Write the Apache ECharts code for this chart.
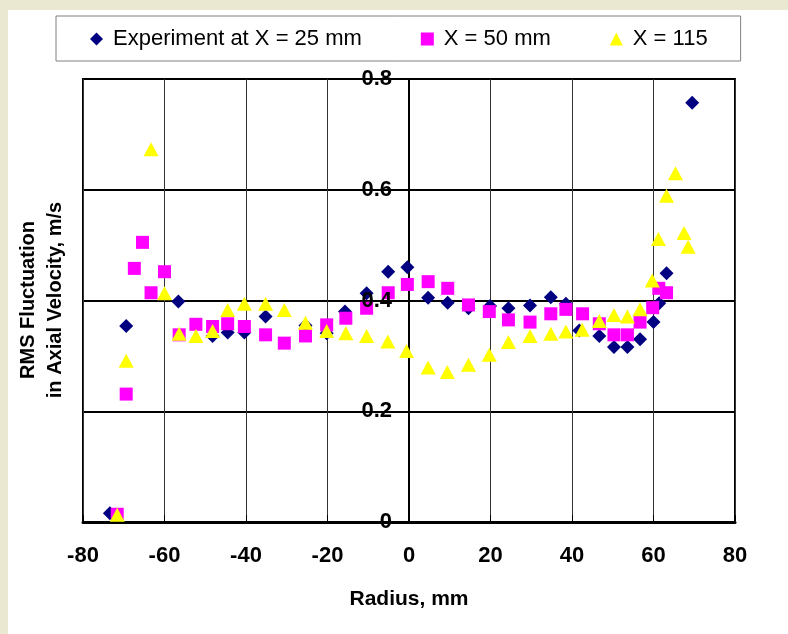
<!DOCTYPE html>
<html><head><meta charset="utf-8">
<script src="https://cdn.jsdelivr.net/npm/echarts@6/dist/echarts.min.js"></script>
<style>
html,body{margin:0;padding:0;background:#EAE8D1;width:788px;height:634px;overflow:hidden;}
#paper{position:absolute;left:8px;top:10px;width:780px;height:624px;background:#fff;}
#chart{position:absolute;left:0;top:0;width:788px;height:634px;}
</style></head><body><div id="paper"></div><div id="chart"></div>
<script>
const seriesNames = ['Experiment at X = 25 mm', 'X = 50 mm', 'X = 115'];

const x25 = [-73.4, -69.4, -56.6, -48.2, -44.5, -40.4, -35.2, -25.4, -20.2, -15.7, -10.4, -5.1, -0.4, 4.7, 9.5, 14.6, 19.9, 24.4, 29.7, 34.8, 38.5, 41.8, 46.7, 50.3, 53.6, 56.7, 60.0, 61.4, 63.2, 69.5];
const y25 = [0.016, 0.354, 0.398, 0.336, 0.342, 0.342, 0.371, 0.355, 0.341, 0.380, 0.413, 0.452, 0.460, 0.405, 0.396, 0.386, 0.390, 0.386, 0.391, 0.406, 0.394, 0.346, 0.336, 0.316, 0.316, 0.330, 0.361, 0.395, 0.449, 0.757];

const x50 = [-71.6, -69.4, -67.4, -65.4, -63.3, -60.0, -56.4, -52.3, -48.2, -44.5, -40.4, -35.2, -30.6, -25.4, -20.2, -15.5, -10.4, -5.1, -0.4, 4.7, 9.5, 14.6, 19.7, 24.4, 29.7, 34.8, 38.5, 42.6, 46.7, 50.3, 53.6, 56.7, 59.8, 61.3, 63.2];
const y50 = [0.014, 0.231, 0.458, 0.505, 0.414, 0.452, 0.338, 0.357, 0.353, 0.358, 0.353, 0.338, 0.323, 0.336, 0.356, 0.368, 0.386, 0.414, 0.429, 0.434, 0.422, 0.392, 0.380, 0.365, 0.361, 0.376, 0.384, 0.376, 0.358, 0.338, 0.338, 0.361, 0.387, 0.422, 0.414];

const x115 = [-71.6, -69.4, -63.3, -60.0, -56.4, -52.3, -48.2, -44.5, -40.4, -35.2, -30.6, -25.4, -20.2, -15.5, -10.4, -5.2, -0.6, 4.7, 9.4, 14.6, 19.7, 24.4, 29.7, 34.8, 38.5, 42.5, 46.7, 50.3, 53.6, 56.7, 59.7, 61.2, 63.2, 65.4, 67.5, 68.5];
const y115 = [0.013, 0.291, 0.673, 0.413, 0.340, 0.336, 0.345, 0.383, 0.394, 0.394, 0.383, 0.360, 0.345, 0.341, 0.336, 0.326, 0.309, 0.279, 0.271, 0.284, 0.302, 0.325, 0.336, 0.340, 0.344, 0.347, 0.363, 0.374, 0.371, 0.384, 0.436, 0.511, 0.589, 0.630, 0.522, 0.497];

const xTickLabels = ['-80', '-60', '-40', '-20', '0', '20', '40', '60', '80'];
const yTickLabels = ['0', '0.2', '0.4', '0.6', '0.8'];
const xTitle = 'Radius, mm';
const yTitle = 'RMS Fluctuation\nin Axial Velocity, m/s';

const FONT = '"Liberation Sans", Arial, Helvetica, sans-serif';
const pairs = (xs, ys) => xs.map((x, i) => [x, ys[i]]);

const chart = echarts.init(document.getElementById('chart'), null, {renderer: 'canvas'});
chart.setOption({
  backgroundColor: 'transparent',
  animation: false,
  legend: {
    left: 56, top: 16, orient: 'horizontal',
    padding: [12, 33, 11, 34],
    borderColor: '#808080', borderWidth: 1, backgroundColor: '#fff', borderRadius: 0,
    itemWidth: 13, itemHeight: 13, itemGap: 59,
    textStyle: {fontFamily: FONT, fontSize: 22, color: '#000', padding: [0, 0, 0, 5]},
    data: seriesNames
  },
  grid: {left: 83, top: 79, width: 652, height: 443, show: true, borderColor: '#000', borderWidth: 2, containLabel: false},
  xAxis: {
    type: 'value', min: -80, max: 80, interval: 20,
    name: xTitle, nameLocation: 'middle', nameGap: 67,
    nameTextStyle: {fontFamily: FONT, fontSize: 21, fontWeight: 'bold', color: '#000'},
    axisLine: {show: true, onZero: false, lineStyle: {color: '#000', width: 3}},
    axisTick: {show: true, inside: true, length: 7, lineStyle: {color: '#000', width: 1}},
    axisLabel: {show: true, margin: 23, fontFamily: FONT, fontSize: 22, fontWeight: 'bold', color: '#000',
      formatter: (v, i) => xTickLabels[i]},
    splitLine: {show: true, lineStyle: {color: '#333', width: 1}}
  },
  yAxis: [{
    type: 'value', min: 0, max: 0.8, interval: 0.2,
    axisLine: {show: true, onZero: true, onZeroAxisIndex: 0, lineStyle: {color: '#000', width: 2}},
    axisTick: {show: true, inside: true, length: 6, lineStyle: {color: '#000', width: 1}},
    axisLabel: {show: false},
    splitLine: {show: true, lineStyle: {color: '#000', width: 2}}
  }, {
    type: 'value', min: 0, max: 0.8, interval: 0.2, position: 'left', offset: -326, z: 10,
    axisLine: {show: false, onZero: false},
    axisTick: {show: false},
    splitLine: {show: false},
    axisLabel: {show: true, margin: 17, fontFamily: FONT, fontSize: 22, fontWeight: 'bold', color: '#000',
      formatter: (v, i) => yTickLabels[i]}
  }],
  graphic: [{
    type: 'text', x: 42, y: 300, rotation: Math.PI / 2, z: 10,
    style: {text: yTitle, font: 'bold 20px ' + FONT, fill: '#000', align: 'center', verticalAlign: 'middle',
      textAlign: 'center', textVerticalAlign: 'middle', lineHeight: 27}
  }],
  series: [
    {name: seriesNames[0], type: 'scatter', symbol: 'diamond', symbolSize: 14, data: pairs(x25, y25),
      itemStyle: {color: '#000080', opacity: 1}, emphasis: {disabled: true}},
    {name: seriesNames[1], type: 'scatter', symbol: 'rect', symbolSize: 13, data: pairs(x50, y50),
      itemStyle: {color: '#FF00FF', opacity: 1}, emphasis: {disabled: true}},
    {name: seriesNames[2], type: 'scatter', symbol: 'triangle', symbolSize: [15, 14], data: pairs(x115, y115),
      itemStyle: {color: '#FFFF00', opacity: 1}, emphasis: {disabled: true}}
  ]
});
</script></body></html>
